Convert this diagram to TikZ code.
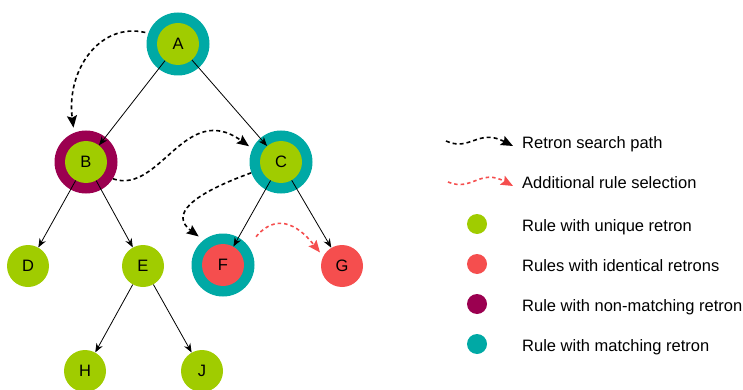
\documentclass[tikz,border=0pt]{standalone}
\usepackage{fontspec}
\setmainfont{Liberation Sans}
\usepackage{xcolor}
\usetikzlibrary{arrows.meta}
\definecolor{uniq}{RGB}{160,204,0}
\definecolor{ident}{RGB}{245,78,78}
\definecolor{nomatch}{RGB}{155,0,80}
\definecolor{match}{RGB}{0,169,165}
\newcommand{\lbl}{\fontsize{16.5}{20}\selectfont}
\tikzset{
  rn/.style={circle,fill=#1,minimum size=42pt,inner sep=0pt,font=\lbl},
  rn/.default=uniq,
  rng/.style={circle,fill=#1,minimum size=63pt,inner sep=0pt},
  br/.style={line width=0.8pt,-{Stealth[length=9pt,width=7pt]}},
  sp/.style={line width=1.6pt,dash pattern=on 4pt off 3pt,-{Stealth[length=12pt,width=10pt,inset=2pt]}},
  ad/.style={sp,ident,dash pattern=on 3.5pt off 3pt},
  kd/.style={circle,fill=#1,minimum size=20pt,inner sep=0pt},
  kt/.style={anchor=base west,inner sep=0pt,font=\lbl}
}
\newcommand{\keyrow}[4]{\node[kd=#3] (#1-dot) at (477,#2-7) {}; \node[kt] (#1-txt) at (522,#2) {#4};}

\begin{document}
\begin{tikzpicture}[x=1pt,y=-1pt]
\useasboundingbox (0,0) rectangle (743,390);
% rings
\node[rng=match] (A-ring) at (178,44) {};
\node[rng=nomatch] (B-ring) at (86,162) {};
\node[rng=match] (C-ring) at (281,162) {};
\node[rng=match] (F-ring) at (223,265) {};
% rules
\node[rn] (A) at (178,44) {A};
\node[rn] (B) at (86,162) {B};
\node[rn] (C) at (281,162) {C};
\node[rn] (D) at (28,266) {D};
\node[rn] (E) at (143,266) {E};
\node[rn=ident] (F) at (223,265) {F};
\node[rn=ident] (G) at (342,266) {G};
\node[rn] (H) at (85,371) {H};
\node[rn] (J) at (202,371) {J};
% tree
\draw[br] (A) -- (B);
\draw[br] (A) -- (C);
\draw[br] (B) -- (D);
\draw[br] (B) -- (E);
\draw[br] (C) -- (F);
\draw[br] (C) -- (G);
\draw[br] (E) -- (H);
\draw[br] (E) -- (J);
% search path
\draw[sp,shorten <=3pt,shorten >=5pt] (A-ring.160) .. controls (100,22) and (66,70) .. (B-ring.112);
\draw[sp,shorten >=4pt] (B-ring.-32) .. controls (160,195) and (185,100) .. (C-ring.155);
\draw[sp,shorten >=6pt] (C-ring.200) .. controls (190,195) and (170,215) .. (F-ring.128);
\draw[ad,shorten <=12pt,shorten >=5pt] (F-ring.37) .. controls (270,220) and (290,215) .. (G.153);
% key
\coordinate (sp-from) at (446,141);
\coordinate (sp-to) at (513,146);
\coordinate (ad-from) at (448,182);
\coordinate (ad-to) at (513,186);
\draw[sp] (sp-from) .. controls (470,152) and (478,128) .. (sp-to);
\draw[ad] (ad-from) .. controls (472,192) and (480,168) .. (ad-to);
\node[kt] (sp-txt) at (522,149) {Retron search path};
\node[kt] (ad-txt) at (522,188) {Additional rule selection};
\keyrow{uniq}{231}{uniq}{Rule with unique retron}
\keyrow{ident}{271}{ident}{Rules with identical retrons}
\keyrow{nomatch}{311}{nomatch}{Rule with non-matching retron}
\keyrow{match}{351}{match}{Rule with matching retron}
\end{tikzpicture}
\end{document}
